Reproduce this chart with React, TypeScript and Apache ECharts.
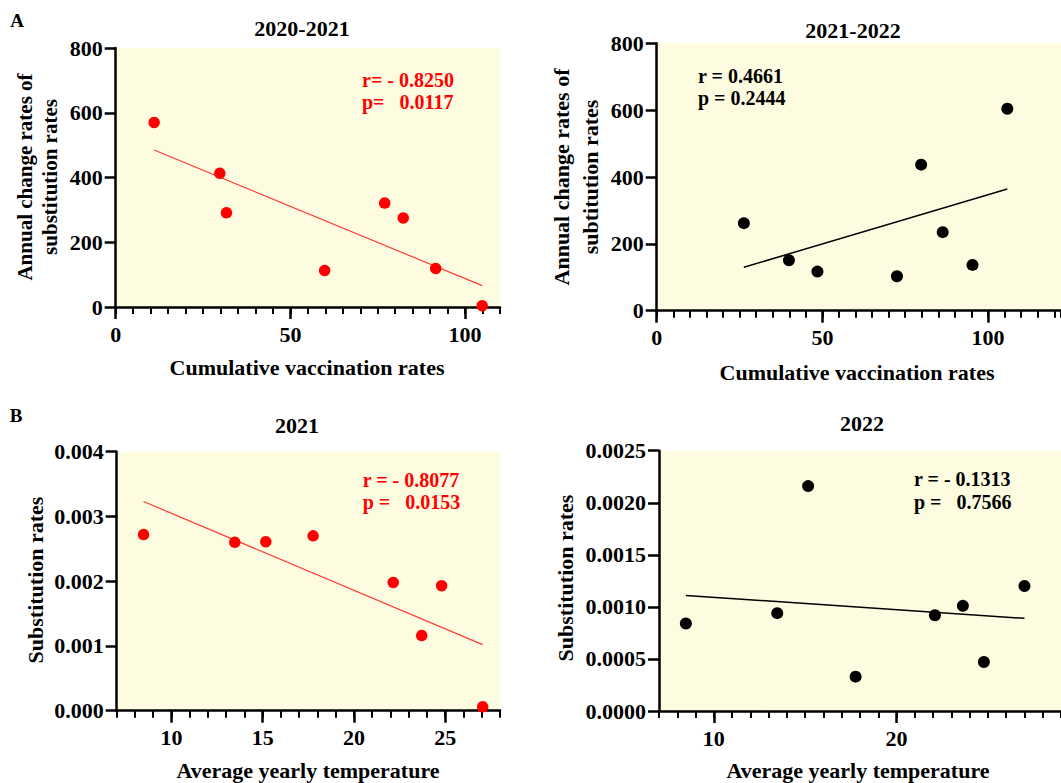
import React, { useEffect, useRef } from "react";
import * as echarts from "echarts";

// ---- Data ----
// Panel A, 2020-2021
const a1X = [11.0, 29.8, 31.7, 59.8, 77.0, 82.3, 91.6, 104.9];
const a1Y = [570, 413, 291, 113, 321, 275, 119, 4];
const a1FitX = [11.0, 104.9];
const a1FitY = [485, 66];
// Panel A, 2021-2022
const a2X = [26.3, 39.9, 48.5, 72.5, 79.8, 86.3, 95.3, 105.8];
const a2Y = [262, 151, 117, 103, 437, 235, 137, 604];
const a2FitX = [26.3, 105.8];
const a2FitY = [130, 364];
// Panel B, 2021
const b1X = [8.47, 13.47, 15.17, 17.76, 22.15, 23.71, 24.8, 27.05];
const b1Y = [0.00272, 0.0026, 0.00261, 0.0027, 0.00198, 0.00116, 0.00193, 0.00006];
const b1FitX = [8.47, 27.05];
const b1FitY = [0.00323, 0.00102];
// Panel B, 2022
const b2X = [8.47, 13.47, 15.16, 17.76, 22.1, 23.63, 24.78, 27.0];
const b2Y = [0.00084, 0.00094, 0.00216, 0.00033, 0.00092, 0.00101, 0.00047, 0.0012];
const b2FitX = [8.47, 27.0];
const b2FitY = [0.00111, 0.00089];

// Tick labels
const aMajorTicks = [0, 50, 100];
const bMajorTicks = [10, 15, 20, 25];
const b2MajorTicks = [10, 20];

const titles = ["2020-2021", "2021-2022", "2021", "2022"];
const xNames = [
  "Cumulative vaccination rates",
  "Cumulative vaccination rates",
  "Average yearly temperature",
  "Average yearly temperature",
];
const yNames = [
  "Annual change rates of\nsubstitution rates",
  "Annual change rates of\nsubtitution rates",
  "Substitution rates",
  "Substitution rates",
];
const statR = ["r= - 0.8250", "r = 0.4661", "r = - 0.8077", "r = - 0.1313"];
const statP = ["p=   0.0117", "p = 0.2444", "p =   0.0153", "p =   0.7566"];

const FONT = "'Liberation Serif', 'Times New Roman', Times, serif";
const BG = "#FEFCE0";
const RED = "#FF0000";

const zip = (xs: number[], ys: number[]) => xs.map((x, i) => [x, ys[i]]);

function xAxesFor(
  gridIndex: number,
  min: number,
  max: number,
  majors: number[],
  minorInterval: number
) {
  return [
    {
      type: "value",
      gridIndex,
      min,
      max,
      position: "bottom",
      axisLine: { show: true, onZero: false, lineStyle: { color: "#000", width: 2.5 } },
      axisTick: { show: true, customValues: majors, length: 12, lineStyle: { color: "#000", width: 2.5 } },
      axisLabel: {
        show: true,
        customValues: majors,
        margin: 16,
        color: "#000",
        fontFamily: FONT,
        fontWeight: "bold",
        fontSize: 22,
      },
      splitLine: { show: false },
    },
    {
      type: "value",
      gridIndex,
      min,
      max,
      interval: minorInterval,
      position: "bottom",
      axisLine: { show: false, onZero: false },
      axisTick: { show: true, length: 7, lineStyle: { color: "#000", width: 2 } },
      axisLabel: { show: false },
      splitLine: { show: false },
    },
  ];
}

function yAxisFor(gridIndex: number, max: number, interval: number, digits: number) {
  return {
    type: "value",
    gridIndex,
    min: 0,
    max,
    interval,
    axisLine: { show: true, onZero: false, lineStyle: { color: "#000", width: 2.5 } },
    axisTick: { show: true, length: 11, lineStyle: { color: "#000", width: 2.5 } },
    axisLabel: {
      margin: 13,
      color: "#000",
      fontFamily: FONT,
      fontWeight: "bold",
      fontSize: 22,
      formatter: (v: number) => (digits ? v.toFixed(digits) : String(Math.round(v))),
    },
    splitLine: { show: false },
  };
}

function txt(text: string, x: number, y: number, size: number, color = "#000", align = "center", rotation = 0, lineHeight?: number) {
  return {
    type: "text",
    x,
    y,
    rotation,
    style: {
      text,
      fill: color,
      fontFamily: FONT,
      fontWeight: "bold",
      fontSize: size,
      align,
      verticalAlign: "middle",
      lineHeight: lineHeight ?? size * 1.2,
    },
  };
}

export default function App() {
  const ref = useRef<HTMLDivElement>(null);
  useEffect(() => {
    if (!ref.current) return;
    const chart = echarts.init(ref.current, undefined, { renderer: "svg" });
    const grids = [
      { left: 115.7, top: 48, width: 384.3, height: 259 },
      { left: 656.7, top: 43.3, width: 406.7, height: 267.4 },
      { left: 116.7, top: 451.7, width: 383.3, height: 259 },
      { left: 659, top: 450.7, width: 415.8, height: 260.3 },
    ].map((g) => ({ ...g, show: true, backgroundColor: BG, borderWidth: 0, containLabel: false }));

    const xAxis = [
      ...xAxesFor(0, 0, 110, aMajorTicks, 5),
      ...xAxesFor(1, 0, 122, aMajorTicks, 5),
      ...xAxesFor(2, 7, 28, bMajorTicks, 1),
      ...xAxesFor(3, 7, 29, b2MajorTicks, 1),
    ];
    const yAxis = [
      yAxisFor(0, 800, 200, 0),
      yAxisFor(1, 800, 200, 0),
      yAxisFor(2, 0.004, 0.001, 3),
      yAxisFor(3, 0.0025, 0.0005, 4),
    ];

    const panels = [
      { x: a1X, y: a1Y, fx: a1FitX, fy: a1FitY, color: RED, lineColor: "#FF3B3B", lw: 1.2, size: 11.5 },
      { x: a2X, y: a2Y, fx: a2FitX, fy: a2FitY, color: "#000", lineColor: "#000", lw: 1.5, size: 12 },
      { x: b1X, y: b1Y, fx: b1FitX, fy: b1FitY, color: RED, lineColor: "#FF3B3B", lw: 1.2, size: 11.5 },
      { x: b2X, y: b2Y, fx: b2FitX, fy: b2FitY, color: "#000", lineColor: "#000", lw: 1.5, size: 12 },
    ];
    const series: any[] = [];
    panels.forEach((p, i) => {
      series.push({
        type: "line",
        xAxisIndex: i * 2,
        yAxisIndex: i,
        data: zip(p.fx, p.fy),
        symbol: "none",
        lineStyle: { color: p.lineColor, width: p.lw },
        z: 3,
      });
      series.push({
        type: "scatter",
        xAxisIndex: i * 2,
        yAxisIndex: i,
        data: zip(p.x, p.y),
        symbol: "circle",
        symbolSize: p.size,
        itemStyle: { color: p.color, opacity: 1 },
        clip: false,
        z: 4,
      });
    });

    const graphic = [
      txt("A", 17, 20, 19),
      txt("B", 16, 415, 19),
      txt(titles[0], 302, 28, 22),
      txt(titles[1], 853, 30, 22),
      txt(titles[2], 297, 425, 22),
      txt(titles[3], 862, 423, 22),
      txt(xNames[0], 307, 367, 22),
      txt(xNames[1], 857, 372, 22),
      txt(xNames[2], 308, 770, 22),
      txt(xNames[3], 858, 770, 22),
      txt(yNames[0], 37, 177, 21, "#000", "center", Math.PI / 2, 25),
      txt(yNames[1], 576, 177, 22, "#000", "center", Math.PI / 2, 29),
      txt(yNames[2], 35, 580, 22, "#000", "center", Math.PI / 2),
      txt(yNames[3], 565, 578, 22, "#000", "center", Math.PI / 2),
      txt(statR[0], 362, 80, 20, RED, "left"),
      txt(statP[0], 362, 102, 20, RED, "left"),
      txt(statR[1], 698, 76, 20, "#000", "left"),
      txt(statP[1], 698, 98, 20, "#000", "left"),
      txt(statR[2], 362.7, 480, 20, RED, "left"),
      txt(statP[2], 362.7, 501.7, 20, RED, "left"),
      txt(statR[3], 914, 479, 20, "#000", "left"),
      txt(statP[3], 914, 501.7, 20, "#000", "left"),
    ];

    chart.setOption({
      animation: false,
      backgroundColor: "#fff",
      grid: grids,
      xAxis,
      yAxis,
      series,
      graphic,
    });
    return () => chart.dispose();
  }, []);
  return (
    <div
      ref={ref}
      style={{ position: "absolute", left: 0, top: 0, width: 1061, height: 783, overflow: "hidden" }}
    />
  );
}
